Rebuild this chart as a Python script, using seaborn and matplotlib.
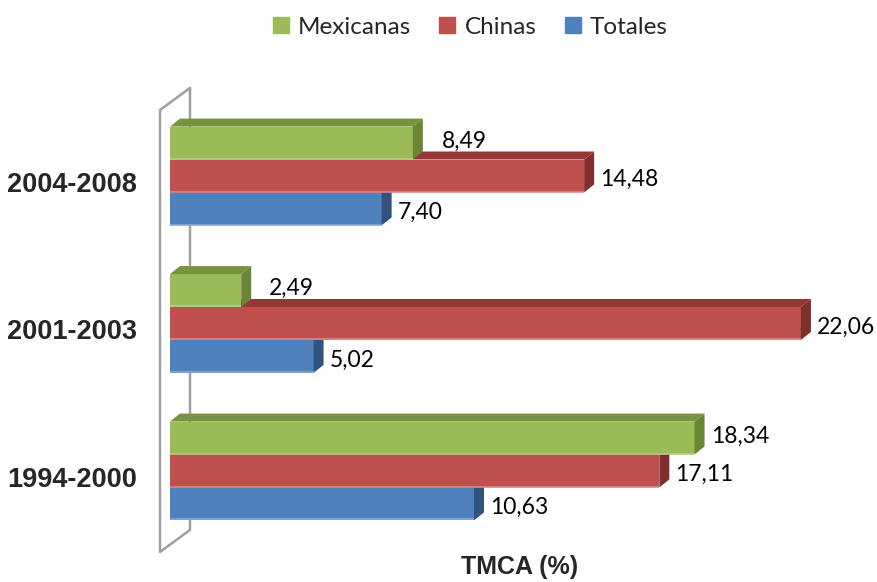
import numpy as np
import pandas as pd
import matplotlib
matplotlib.use('Agg')
import matplotlib.pyplot as plt
import seaborn as sns
from matplotlib.patches import Polygon
from matplotlib.lines import Line2D
from matplotlib.transforms import ScaledTranslation

# data (TMCA %)
periods = ['2004-2008', '2001-2003', '1994-2000']
series = ['Mexicanas', 'Chinas', 'Totales']
mexicanas = [8.49, 2.49, 18.34]
chinas = [14.48, 22.06, 17.11]
totales = [7.40, 5.02, 10.63]

# colours: front face, top face, side face, light bottom edge
front = {'Mexicanas': '#9BBB59', 'Chinas': '#C0504D', 'Totales': '#4F81BD'}
top = {'Mexicanas': '#77933C', 'Chinas': '#953735', 'Totales': '#3A5F8D'}
side = {'Mexicanas': '#6A8634', 'Chinas': '#7F302E', 'Totales': '#31537D'}
edge = {'Mexicanas': '#B5CD85', 'Chinas': '#D88A88', 'Totales': '#86A8D6'}

# label placement tweaks (points), Excel lifts the top series' labels a bit
label_dy = {'Mexicanas': 1.5, 'Chinas': -2.5, 'Totales': -2.5}
nudge = {('Mexicanas', '2004-2008'): 9, ('Mexicanas', '2001-2003'): 8}

df = pd.DataFrame({
    'periodo': periods * 3,
    'serie': np.repeat(series, 3),
    'tmca': mexicanas + chinas + totales,
})

sns.set_style('white')
plt.rcParams['font.family'] = ['Lato', 'DejaVu Sans']

W, H = 877, 582
fig = plt.figure(figsize=(W / 100, H / 100), dpi=100)
ax = fig.add_axes([170 / W, 1 - 545 / H, 700 / W, 455 / H])

sns.barplot(data=df, x='tmca', y='periodo', hue='serie', order=periods,
            hue_order=series, palette=front, saturation=1, width=0.67,
            orient='h', ax=ax, legend=False, linewidth=0, edgecolor='none')

px_x = 28.6      # pixels per % unit
px_y = 147.5     # pixels per category
ax.set_xlim(0, 700 / px_x)
ax.set_ylim(2.502, -0.583)

# 3d depth of the bars, in pixels -> data
dx = 10 / px_x
dy = 8 / px_y

for k, cont in enumerate(ax.containers):
    s = series[k]
    z = 3 + (len(series) - 1 - k)
    for j, bar in enumerate(cont):
        x0, y0 = bar.get_x(), bar.get_y()
        w, h = bar.get_width(), bar.get_height()
        bar.set_zorder(z)
        ax.add_patch(Polygon([(x0, y0), (x0 + w, y0), (x0 + w + dx, y0 - dy), (x0 + dx, y0 - dy)],
                             closed=True, facecolor=top[s], edgecolor='none', zorder=z))
        ax.add_patch(Polygon([(x0 + w, y0), (x0 + w, y0 + h), (x0 + w + dx, y0 + h - dy), (x0 + w + dx, y0 - dy)],
                             closed=True, facecolor=side[s], edgecolor='none', zorder=z))
        ax.plot([x0, x0 + w], [y0 + h - 0.006, y0 + h - 0.006], color=edge[s], lw=1.2,
                zorder=z, solid_capstyle='butt')
        extra = nudge.get((s, periods[j]), 0)
        ax.annotate(f'{w:.2f}'.replace('.', ','), xy=(x0 + w + dx, y0 + h / 2),
                    xytext=(4.5 + extra, label_dy[s]), textcoords='offset points',
                    ha='left', va='center', fontsize=16.5, color='black', zorder=10)

# back wall outline (3d wall on the category axis)
wall_x = (160 - 170) / px_x
wall_dx = 30 / px_x
wall_top = (110 - 176) / px_y
wall_bot = (552 - 176) / px_y
wall_dy = 22 / px_y
wx = [wall_x + wall_dx, wall_x, wall_x, wall_x + wall_dx, wall_x + wall_dx]
wy = [wall_top - wall_dy, wall_top, wall_bot, wall_bot - wall_dy, wall_top - wall_dy]
ax.plot(wx, wy, color='#A0A0A0', lw=1.8, clip_on=False, zorder=1)

# axes styling
for sp in ax.spines.values():
    sp.set_visible(False)
ax.set_xticks([])
ax.set_ylabel('')
ax.tick_params(axis='y', length=0, pad=24)
for lab in ax.get_yticklabels():
    lab.set_fontfamily('Liberation Sans')
    lab.set_fontweight('bold')
    lab.set_fontsize(19.5)
    lab.set_transform(lab.get_transform() + ScaledTranslation(0, -6 / 100, fig.dpi_scale_trans))

ax.set_xlabel('TMCA (%)', fontsize=18, fontweight='bold', family='Liberation Sans', va='center')
ax.xaxis.set_label_coords(0.5, -22 / 455)

handles = [Line2D([], [], marker='s', ls='', color=front[s], markersize=11) for s in series]
fig.legend(handles, series, loc='center', bbox_to_anchor=(470 / W, 1 - 27 / H), ncol=3,
           frameon=False, prop={'family': 'Lato', 'size': 17.5}, handlelength=0.7,
           handletextpad=0.35, columnspacing=1.15)

fig.savefig('out.png', dpi=100, facecolor='white')
